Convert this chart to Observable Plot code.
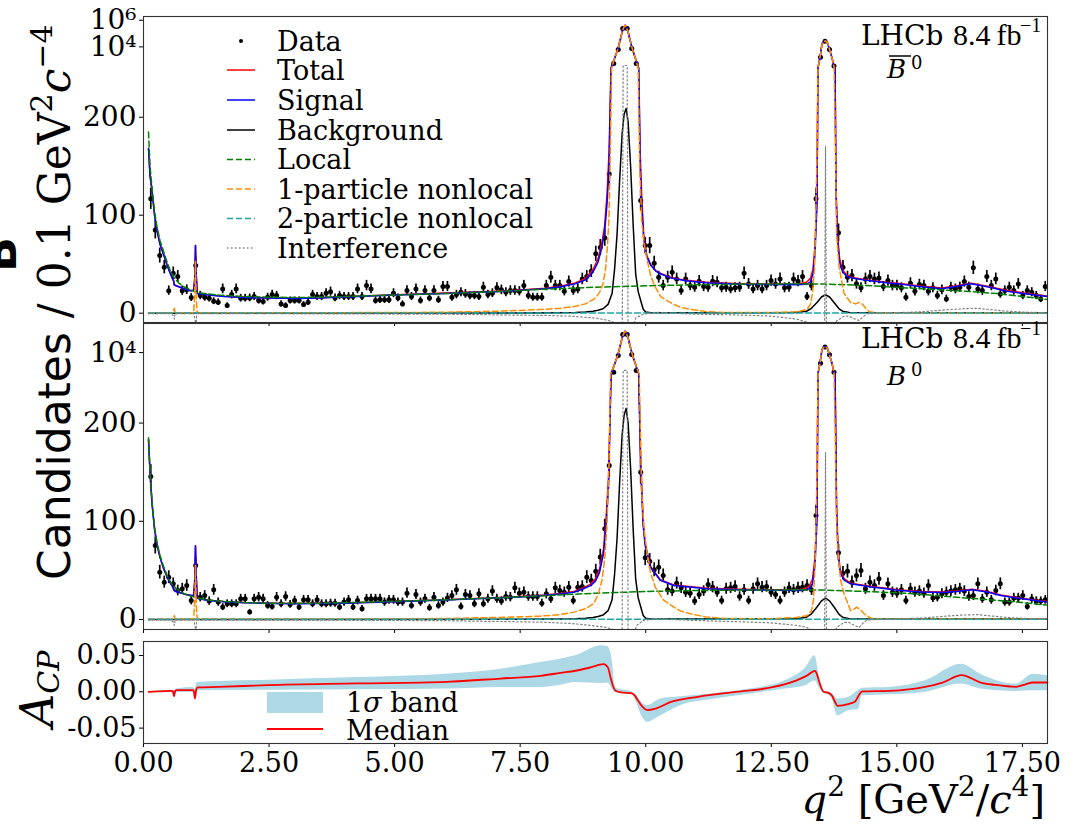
<!DOCTYPE html>
<html><head><meta charset="utf-8">
<script src="https://cdn.jsdelivr.net/npm/d3@7"></script>
<script src="https://cdn.jsdelivr.net/npm/@observablehq/plot@0.6"></script>
<style>
html,body{margin:0;padding:0;background:#fff;}
#fig{position:relative;width:1087px;height:828px;overflow:hidden;background:#fff;}
</style></head><body><div id="fig"></div>
<script>
// ---------------- histogram binning ----------------
const binLo = 0.1, binWidth = 0.0895;
const xTickVals = [0, 2.5, 5, 7.5, 10, 12.5, 15, 17.5];

// ---------------- data: B0bar (top panel) ----------------
const dataBbar = [
116.7,85,58.8,47,23,40.8,37.4,23,24,16,
48.6,18,16.3,15.3,12.2,11.2,24.8,7.8,19,24.8,
15.3,15.3,15.6,17,12.9,11.9,16.3,19,18,9.5,
7.8,12.9,12.9,12.9,8.8,11.2,19,17,17,20.4,
22,15.6,18,17,17,17,24.8,17,28.2,24.8,
12.9,13.6,13.6,13.6,20.4,15.6,9.5,23.1,17,24.8,
12.9,23.1,15.6,23.1,13.6,27.2,27.2,16.3,19,21.4,
19.7,18,18,17,26.5,19,20.4,25.9,23.8,21.4,
23.1,23.1,22.4,28.2,18,16.3,16.3,16.3,28.2,36.7,
28.2,28.2,22.4,32.3,23.1,24.8,35,37.4,42.9,
60.6,67,77,142,571,6380,240000,240000,7600,571,115,69,69,51,
36.7,28.2,36.7,41.8,35,23.1,35,28.2,26.5,32.7,27.2,26.5,32.7,31.6,25.9,26.5,24.8,25.9,26.5,40.8,
29.9,24.8,28.2,24.8,28.2,33.3,29.9,35,25.9,26.5,35,32.7,37.4,17,28.2,
116.7,1700,26000,6400,360,82,
47,36.7,38.4,30,25.9,35,37.4,35,36,27.2,33.3,28.2,28.2,25.9,16.3,30.6,22.4,29.2,28.2,22.4,
25.9,18,23.8,14.6,26.5,24.8,26.5,32.3,26.5,46.3,24.8,23.1,37.4,28.2,35,19.7,23.1,26.5,23.1,29.9,
18,23.1,21.4,18,14.6,27.2];

// ---------------- data: B0 (middle panel) ----------------
const dataB = [
145.6,75.4,48.2,38,43.1,36.3,29.5,31.2,34.6,19.3,
55,22.7,24.4,18.7,30.2,17.7,12.6,16,16,16,
21,21,7.5,21,22.7,21,14.3,13.2,22.7,16,
23.4,15.3,19.3,12.6,20,20,16,20,16,16,
16.6,16.6,12.6,17.7,20,12.6,19.3,10.9,21,21,
21,21,17.7,20,20,17.7,17.7,26.8,14.3,25.5,
17.7,21,11.9,22.7,14.3,17.7,22,24.4,30.2,13.2,
25.5,24.4,16,26.1,16,21,28.9,21,18.7,23.4,
22.7,32.2,26.8,27.8,23.4,23.4,23.4,16.6,26.1,21,
32.2,29.5,27.8,32.9,19.3,32.9,33.6,43.1,39.7,
49.2,63.5,92.4,156.8,340,6030,226000,226000,7260,460,150,62.8,59.4,50.6,
53.3,44.8,30.2,28.9,37,32.2,27.8,26.8,18.7,25.5,28.9,35.6,32.9,27.8,19.3,31.2,32.2,33.6,23.4,30.2,
19.3,31.2,36.3,32.9,33.6,27.8,25.5,19.3,27.8,32.2,30.2,32.2,32.9,34.6,30,
106,1610,26000,6900,340,68,
47.2,49.2,38,44.8,49.9,31.2,38,34.6,41.4,24.4,36.3,27.8,26.8,30.2,19.3,31.2,27.8,28.9,26.8,34.6,
22,22.7,26.1,27.8,28.9,30.2,31.2,28.9,23.4,24.4,36.3,21,27.8,20,29.5,36.3,17.7,17.7,22,22,
24.4,13.2,21,18.7,18.7,20];

// ---------------- model curves: top panel ----------------
const signalTop = [[0.1,168],[0.13,140],[0.17,125],[0.22,100],[0.27,84],[0.33,70],[0.4,60],[0.47,49],[0.53,41],[0.58,35],[0.6,33],[0.61,29],[0.65,28],[0.73,26.5],[0.85,24],[0.95,23],[1.0,23.5],[1.02,35],[1.035,69],[1.05,40],[1.07,20],[1.15,19.5],[1.3,18.5],[1.6,17],[2.0,16],[2.5,15.5],[3.1,15],[3.5,15.5],[4.0,16.5],[4.5,17.5],[5.0,18.5],[5.5,19.3],[6.0,20.2],[6.6,21.3],[7.0,22],[7.5,23.3],[8.0,25],[8.3,27],[8.6,30],[8.8,34],[8.95,42],[9.05,52],[9.12,66],[9.18,82],[9.23,112],[9.27,150],[9.31,250],[9.375,1200],[9.44,5800],[9.49,30000],[9.53,130000],[9.565,300000],[9.59,420000],[9.615,300000],[9.65,130000],[9.69,30000],[9.74,5800],[9.8,1200],[9.86,250],[9.89,150],[9.92,110],[9.96,76],[10.02,58],[10.1,49],[10.2,43],[10.3,40],[10.5,36],[10.8,33],[11.2,31],[11.9,29.5],[12.5,29.3],[13.0,29],[13.2,29.5],[13.28,32],[13.33,40],[13.37,60],[13.41,110],[13.43,250],[13.47,1600],[13.51,17000],[13.545,25000],[13.585,28000],[13.62,20000],[13.66,6400],[13.71,1500],[13.75,300],[13.77,250],[13.79,120],[13.82,74],[13.86,52],[13.92,42],[14.0,38],[14.1,36],[14.4,33.5],[14.8,31],[15.1,29.5],[15.5,27],[15.9,25],[16.2,27.5],[16.48,30],[16.8,27],[17.2,22.5],[17.6,19.5],[18.0,17]];
const totalTop = [[0.1,168],[0.13,140],[0.17,125],[0.22,100],[0.27,84],[0.33,70],[0.4,60],[0.47,49],[0.53,41],[0.58,35],[0.6,33],[0.61,29],[0.65,28],[0.73,26.5],[0.85,24],[0.95,23],[1.0,23.5],[1.02,35],[1.035,69],[1.05,40],[1.07,20.3],[1.15,19.8],[1.3,18.8],[1.6,17.3],[2.0,16.3],[2.5,15.8],[3.1,15.3],[3.5,15.8],[4.0,16.8],[4.5,17.8],[5.0,18.8],[5.5,19.6],[6.0,20.5],[6.6,21.6],[7.0,22.3],[7.5,23.6],[8.0,25.4],[8.3,27.6],[8.6,30.8],[8.8,35.4],[8.95,44.5],[9.05,55.5],[9.12,70.5],[9.18,88],[9.23,122],[9.27,165],[9.31,272],[9.375,1250],[9.44,5900],[9.49,30000],[9.53,130000],[9.565,300000],[9.59,420000],[9.615,300000],[9.65,130000],[9.69,30000],[9.74,5900],[9.8,1240],[9.86,272],[9.89,165],[9.92,120],[9.96,80],[10.02,59],[10.1,49.5],[10.2,43.5],[10.3,40.5],[10.5,36.5],[10.8,33.5],[11.2,31.5],[11.9,30],[12.5,29.8],[13.0,29.6],[13.2,31.5],[13.28,35.5],[13.33,45],[13.37,68],[13.41,121],[13.43,263],[13.47,1620],[13.51,17000],[13.545,25000],[13.585,28000],[13.62,20000],[13.66,6420],[13.71,1515],[13.75,311],[13.77,259],[13.79,127],[13.82,80],[13.86,56],[13.92,44],[14.0,39],[14.1,36.6],[14.4,34],[14.8,31.5],[15.1,30],[15.5,27.6],[15.9,25.6],[16.2,28.1],[16.48,30.6],[16.8,27.6],[17.2,23.1],[17.6,20.1],[18.0,17.5]];
const backgroundTop = [[0.1,0],[7.5,0.2],[8.3,0.5],[8.6,0.7],[8.8,1.2],[8.95,2],[9.05,3],[9.15,4.5],[9.25,9],[9.33,20],[9.38,45],[9.43,81],[9.48,135],[9.53,183],[9.57,203],[9.61,209],[9.65,195],[9.7,149],[9.75,90],[9.8,40],[9.85,22],[9.9,13],[9.95,4],[10.0,1.2],[10.1,0.4],[13.0,0.6],[13.2,2],[13.3,5],[13.41,11],[13.5,16.5],[13.58,18.8],[13.66,16.5],[13.75,11],[13.85,4.5],[13.92,2],[14.05,0.7],[18,0.5]];
const localTop = [[0.1,185],[0.13,150],[0.17,128],[0.22,104],[0.27,88],[0.33,74],[0.4,63],[0.47,52],[0.53,44],[0.6,37],[0.7,31],[0.8,27],[0.9,24.5],[1.0,22.5],[1.2,20],[1.5,18.5],[2.0,17],[2.5,16.3],[3.0,16],[3.5,16.3],[4.0,17],[5.0,18.5],[6.0,20],[7.0,22],[8.0,24.5],[9.0,26.5],[10.0,28],[11.0,29],[12.0,29.7],[13.0,30],[13.5,29.8],[14.0,29],[14.5,28],[15.0,26.3],[15.5,25],[16.0,23.5],[16.5,22],[17.0,20],[17.5,17],[18.0,14]];
const nonlocal1Top = [[0.1,0.3],[0.58,0.3],[0.6,3],[0.615,5],[0.63,0.5],[1.0,0.5],[1.02,20],[1.035,53],[1.05,15],[1.07,0.5],[5.0,0.6],[6.0,1],[7.0,2],[7.5,2.8],[8.0,4],[8.3,5],[8.6,7],[8.8,9.5],[8.98,14.6],[9.08,21],[9.15,30],[9.2,45],[9.24,70],[9.27,100],[9.3,180],[9.32,250],[9.375,1200],[9.44,5800],[9.49,30000],[9.53,130000],[9.565,300000],[9.59,420000],[9.615,300000],[9.65,130000],[9.69,30000],[9.74,5800],[9.8,1200],[9.85,250],[9.88,150],[9.92,94],[9.97,70],[10.03,54],[10.1,38],[10.19,26.5],[10.3,17],[10.45,12],[10.56,9],[10.7,6],[10.89,4],[11.22,1.5],[11.6,0.7],[12.5,0.6],[13.0,1.5],[13.15,3],[13.22,4.5],[13.28,9],[13.32,20],[13.36,45],[13.38,81],[13.41,160],[13.43,250],[13.47,1600],[13.51,17000],[13.545,25000],[13.585,28000],[13.62,20000],[13.66,6400],[13.71,1500],[13.75,300],[13.77,200],[13.8,81],[13.85,47],[13.95,20],[14.08,11],[14.18,9.5],[14.25,11],[14.32,9],[14.38,5],[14.45,1.5],[14.6,0.5],[18,0.5]];
const nonlocal2Top = [[0.1,0.3],[9,0.3],[18,0.3]];
const interferenceTop = [[0.1,-0.5],[0.55,-0.5],[0.6,-3],[0.615,-6],[0.63,-0.5],[1.0,-0.5],[1.03,-8],[1.045,-12],[1.06,-0.5],[3,-0.6],[6,-1],[8,-2.3],[8.5,-3],[9.0,-5],[9.26,-7.4],[9.4,-10],[9.47,-20],[9.515,-300],[9.55,400],[9.63,400],[9.665,-300],[9.72,-20],[9.8,-5],[9.95,-1],[10.2,1],[10.5,0],[11,-1],[12,-2],[12.5,-3],[13.0,-6],[13.2,-9],[13.35,-12],[13.45,-25],[13.535,-300],[13.58,170],[13.625,-300],[13.72,-25],[13.8,-8],[13.95,-3],[14.05,-3],[14.15,-5.7],[14.25,-7.4],[14.32,-4],[14.4,-0.6],[14.6,0],[15.0,0.5],[15.5,1.5],[16.0,3.5],[16.3,4.5],[16.6,5],[16.9,3.5],[17.2,2],[17.6,1],[18,0.5]];

// ---------------- model curves: middle panel ----------------
const signalMid = [[0.1,183],[0.13,150],[0.17,118],[0.22,92],[0.27,76],[0.33,63],[0.4,52],[0.47,43.5],[0.53,37.5],[0.58,33.5],[0.6,32],[0.61,29.5],[0.65,28.5],[0.75,27],[0.85,25.5],[0.95,24.5],[1.0,24.5],[1.02,40],[1.035,75],[1.05,45],[1.07,21.5],[1.15,20.5],[1.3,19.3],[1.6,18],[2.0,17],[2.6,16.2],[3.0,16],[4.0,16.6],[5.0,18],[6.0,19.8],[7.0,21.8],[7.5,23],[8.0,24.6],[8.3,26],[8.57,27.8],[8.75,31],[8.9,34.5],[9.0,39],[9.08,48],[9.16,67],[9.21,95],[9.26,135],[9.31,250],[9.375,1200],[9.44,5800],[9.49,30000],[9.53,125000],[9.565,290000],[9.59,400000],[9.615,290000],[9.65,125000],[9.69,30000],[9.74,5800],[9.8,1200],[9.86,250],[9.9,152],[9.95,95],[9.99,75],[10.1,53],[10.29,40],[10.56,34.6],[11.22,31.2],[11.89,30.2],[12.5,29.8],[13.1,29.5],[13.25,31],[13.32,36.3],[13.37,55],[13.41,100],[13.43,250],[13.47,1600],[13.51,17000],[13.545,25000],[13.585,28000],[13.62,20000],[13.66,6400],[13.71,1500],[13.75,300],[13.77,250],[13.8,110],[13.83,67],[13.87,48],[13.95,40],[14.08,36.3],[14.5,33],[15.07,29.5],[15.5,28],[15.9,27.5],[16.2,28.5],[16.5,30.2],[16.8,28],[17.07,24.4],[17.5,21],[18,17.7]];
const totalMid = [[0.1,183],[0.13,150],[0.17,118],[0.22,92],[0.27,76],[0.33,63],[0.4,52],[0.47,43.5],[0.53,37.5],[0.58,33.5],[0.6,32],[0.61,29.5],[0.65,28.5],[0.75,27],[0.85,25.5],[0.95,24.5],[1.0,24.5],[1.02,40],[1.035,75],[1.05,45],[1.07,21.8],[1.15,20.8],[1.3,19.6],[1.6,18.3],[2.0,17.3],[2.6,16.5],[3.0,16.3],[4.0,16.9],[5.0,18.3],[6.0,20.1],[7.0,22.1],[7.5,23.3],[8.0,25],[8.3,26.5],[8.57,28.5],[8.75,32],[8.9,36],[9.0,41.5],[9.08,51.5],[9.16,72],[9.21,103],[9.26,146],[9.31,270],[9.375,1250],[9.44,5900],[9.49,30000],[9.53,125000],[9.565,290000],[9.59,400000],[9.615,290000],[9.65,125000],[9.69,30000],[9.74,5900],[9.8,1240],[9.86,272],[9.9,165],[9.95,100],[9.99,77],[10.1,53.5],[10.29,40.5],[10.56,35.1],[11.22,31.7],[11.89,30.7],[12.5,30.3],[13.1,30.3],[13.25,33.5],[13.32,41],[13.37,63],[13.41,112],[13.43,263],[13.47,1620],[13.51,17000],[13.545,25000],[13.585,28000],[13.62,20000],[13.66,6420],[13.71,1518],[13.75,313],[13.77,260],[13.8,118],[13.83,72],[13.87,51],[13.95,41.5],[14.08,37],[14.5,33.5],[15.07,30],[15.5,28.5],[15.9,28],[16.2,29],[16.5,30.7],[16.8,28.5],[17.07,24.9],[17.5,21.5],[18,18.2]];
const backgroundMid = [[0.1,0],[7.5,0.2],[8.3,0.5],[8.6,0.7],[8.8,1.2],[8.95,2],[9.05,3],[9.15,4.5],[9.25,9],[9.33,20],[9.38,46],[9.43,83],[9.48,139],[9.53,188],[9.57,208],[9.61,215],[9.65,200],[9.7,153],[9.75,92],[9.8,41],[9.85,22],[9.9,13],[9.95,4],[10.0,1.2],[10.1,0.4],[13.0,0.7],[13.2,2.3],[13.3,5.8],[13.41,12.7],[13.5,19],[13.58,21.7],[13.66,19],[13.75,12.7],[13.85,5.2],[13.92,2.3],[14.05,0.8],[18,0.5]];
const localMid = [[0.1,185],[0.13,150],[0.17,120],[0.22,94],[0.27,78],[0.33,65],[0.4,54],[0.47,45],[0.53,39],[0.6,34],[0.7,29.5],[0.8,26.5],[0.9,24.5],[1.0,23],[1.2,20.5],[1.5,18.8],[2.0,17.3],[2.5,16.6],[3.0,16.4],[3.5,16.6],[4.0,17],[5.0,18.5],[6.0,20],[7.0,22],[8.0,24.2],[9.0,26.8],[10.0,28.5],[11.0,29.5],[12.0,30],[13.0,30.2],[13.5,30],[14.0,29.2],[14.5,28.2],[15.07,27],[15.5,25.5],[16.0,23.5],[16.5,21.4],[17.0,19.5],[17.5,17.2],[18.0,14.6]];
const nonlocal1Mid = [[0.1,0.3],[0.58,0.3],[0.6,2.5],[0.615,4],[0.63,0.5],[1.0,0.5],[1.02,20],[1.035,55],[1.05,15],[1.07,0.5],[5.0,0.6],[6.0,1],[7.0,2],[7.5,2.7],[7.9,3.4],[8.3,5],[8.57,7.5],[8.8,11],[8.96,16],[9.05,25],[9.13,40],[9.19,65],[9.23,100],[9.27,160],[9.3,250],[9.375,1200],[9.44,5800],[9.49,30000],[9.53,125000],[9.565,290000],[9.59,400000],[9.615,290000],[9.65,125000],[9.69,30000],[9.74,5800],[9.8,1200],[9.87,250],[9.92,130],[9.97,90],[10.03,67],[10.1,47],[10.19,33],[10.35,20],[10.56,12.6],[10.7,8.5],[10.89,5.8],[11.22,2.4],[11.6,1],[12.5,0.7],[13.0,2],[13.22,4],[13.3,9],[13.34,20],[13.38,67],[13.41,150],[13.43,250],[13.47,1600],[13.51,17000],[13.545,25000],[13.585,28000],[13.62,20000],[13.66,6400],[13.71,1500],[13.75,300],[13.77,200],[13.8,100],[13.83,67],[13.88,40],[13.95,26],[14.08,9],[14.15,10.5],[14.2,12.5],[14.27,10],[14.35,5.8],[14.48,1.4],[14.6,0.5],[18,0.5]];
const nonlocal2Mid = [[0.1,0.3],[9,0.3],[18,0.3]];
const interferenceMid = [[0.1,-0.5],[0.55,-0.5],[0.6,-3],[0.615,-6],[0.63,-0.5],[1.0,-0.5],[1.03,-8],[1.045,-12],[1.06,-0.5],[3,-0.6],[6,-1.2],[7.9,-2.7],[8.5,-4],[8.9,-6],[9.2,-8],[9.35,-10],[9.45,-20],[9.51,-300],[9.55,460],[9.63,460],[9.67,-300],[9.73,-20],[9.82,-6],[9.95,-1],[10.2,1],[10.5,0],[11,-1],[12,-2.5],[12.5,-3.5],[13.0,-6],[13.2,-8],[13.35,-12],[13.45,-25],[13.535,-300],[13.58,170],[13.625,-300],[13.72,-25],[13.8,-8],[13.95,-3],[14.05,-3],[14.15,-6],[14.25,-8],[14.32,-4],[14.4,-0.6],[14.6,0],[15.0,0.5],[15.5,1.5],[16.0,3.5],[16.3,4.5],[16.6,5],[16.9,3.5],[17.2,2],[17.6,1],[18,0.5]];

// ---------------- A_CP panel ----------------
const acpMedian = [[0.1,0],[0.3,0.0005],[0.56,0.0014],[0.59,0.0005],[0.61,-0.0064],[0.63,0.001],[0.66,0.0023],[0.99,0.0023],[1.01,-0.002],[1.025,-0.0092],[1.05,0.003],[1.08,0.006],[1.5,0.0068],[2.48,0.0092],[4.26,0.0115],[6.03,0.0138],[7.11,0.0183],[7.91,0.022],[8.3,0.026],[8.6,0.029],[8.9,0.0335],[9.16,0.038],[9.25,0.033],[9.3,0.0197],[9.35,0.008],[9.4,0.0014],[9.51,-0.0009],[9.71,-0.0018],[9.78,-0.005],[9.85,-0.0124],[9.93,-0.02],[10.03,-0.0252],[10.2,-0.023],[10.5,-0.014],[11.04,-0.0069],[11.8,0],[12.5,0.006],[12.98,0.0151],[13.2,0.022],[13.37,0.0289],[13.42,0.022],[13.47,0.0106],[13.54,0],[13.65,-0.0018],[13.71,-0.0055],[13.77,-0.014],[13.82,-0.0193],[14.03,-0.017],[14.17,-0.0133],[14.24,-0.005],[14.31,0.0005],[14.86,0.0014],[15.56,0.0069],[15.91,0.0128],[16.29,0.0229],[16.67,0.0128],[16.95,0.0096],[17.37,0.0069],[17.55,0.01],[17.71,0.0128],[18.0,0.0128]];
const acpBand = [[0.1,0,0],[0.56,-0.0014,0.0023],[0.61,-0.008,0.001],[0.66,-0.001,0.004],[0.99,-0.0009,0.006],[1.025,-0.011,0.004],[1.07,0.0014,0.0128],[2.48,0.0023,0.016],[4.26,0.0028,0.0197],[6.03,0.0037,0.0243],[7.11,0.006,0.0312],[7.91,0.006,0.0404],[8.3,0.009,0.045],[8.6,0.0128,0.0495],[9.13,0.0115,0.0633],[9.25,0.012,0.062],[9.33,0.004,0.045],[9.4,-0.001,0.005],[9.71,-0.003,0.0005],[9.8,-0.012,-0.004],[9.92,-0.033,-0.0147],[10.03,-0.042,-0.0193],[10.3,-0.033,-0.01],[10.69,-0.0193,-0.0069],[11.38,-0.01,-0.0023],[12.07,-0.0032,0.0037],[12.77,0.0037,0.0151],[13.19,0.0083,0.0335],[13.37,0.0151,0.0495],[13.47,0.0037,0.0151],[13.55,-0.0014,0.0005],[13.7,-0.008,-0.002],[13.82,-0.033,-0.01],[14.03,-0.026,-0.0078],[14.24,-0.0239,0.0023],[14.31,-0.0055,0.005],[14.86,-0.0041,0.006],[15.56,-0.0009,0.0151],[16.29,0.0106,0.038],[16.67,0.0037,0.0243],[17.37,0.0005,0.0106],[17.71,0.0014,0.0243],[18.0,0.0014,0.022]];

// ---------------- axis tick labels ----------------
const yTickTop = [0, 100, 200, 1e4, 1e6];
const yTickTopLabels = ["0", "100", "200", "10\u2074", "10\u2076"];
const yTickMid = [0, 100, 200, 1e4];
const yTickMidLabels = ["0", "100", "200", "10\u2074"];
const acpTicks = [-0.05, 0, 0.05];

// ---------------- colours ----------------
const colTotal = "#ff0000", colSignal = "#0000ff", colBkg = "#000000", colLocal = "#008000",
      colNL1 = "#ff8c00", colNL2 = "#20a5a5", colInt = "#808080", colBand = "#add8e6";

// linear below 250, logarithmic above (as in the reference axis)
const T = v => v <= 250 ? v : 250 + 13.6 * Math.log10(v / 250);

const fig = document.getElementById("fig");
const baseStyle = {background: "transparent", fontFamily: "DejaVu Serif", fontSize: "28px", color: "black", overflow: "visible"};

function place(svg, top) {
  svg.style.position = "absolute";
  svg.style.left = "0px";
  svg.style.top = top + "px";
  svg.style.maxWidth = "none";
  fig.appendChild(svg);
}

function mainPanel(values, c, o) {
  const bins = values.map((v, k) => ({q: binLo + binWidth * (k + 0.5), v}));
  const lbl = new Map(o.ticks.map((t, i) => [T(t), o.labels[i]]));
  const ln = (arr, stroke, dash, w = 1.5) => Plot.line(arr, {x: d => d[0], y: d => T(d[1]), stroke, strokeWidth: w, strokeDasharray: dash, clip: true});
  const svg = Plot.plot({
    width: 1087, height: o.height,
    marginLeft: 143, marginRight: 40, marginTop: o.mt, marginBottom: o.mb,
    style: baseStyle,
    x: {domain: [0, 18], ticks: xTickVals, tickFormat: () => "", tickSize: 4, label: null},
    y: {domain: o.domain, ticks: o.ticks.map(T), tickFormat: d => lbl.get(d), tickSize: 4, tickPadding: 3, label: null},
    marks: [
      Plot.ruleX(bins, {x: "q", y1: d => T(d.v - Math.sqrt(d.v)), y2: d => T(d.v + Math.sqrt(d.v)), stroke: "black", strokeWidth: 1.7, clip: true}),
      Plot.dot(bins, {x: "q", y: d => T(d.v), r: 2.5, fill: "black", stroke: "none", clip: true}),
      ln(c.total, colTotal),
      ln(c.signal, colSignal),
      ln(c.bkg, colBkg),
      ln(c.local, colLocal, "6,3"),
      ln(c.nl1, colNL1, "6,3"),
      ln(c.nl2, colNL2, "6,3"),
      ln(c.int, colInt, "1.5,2.5", 1.2),
      Plot.frame({stroke: "#333", strokeWidth: 1.1})
    ]
  });
  place(svg, o.top);
}

mainPanel(dataBbar, {total: totalTop, signal: signalTop, bkg: backgroundTop, local: localTop, nl1: nonlocal1Top, nl2: nonlocal2Top, int: interferenceTop},
  {top: 0, height: 330, mt: 16, mb: 8, domain: [-9.5, 302.8], ticks: yTickTop, labels: yTickTopLabels});
mainPanel(dataB, {total: totalMid, signal: signalMid, bkg: backgroundMid, local: localMid, nl1: nonlocal1Mid, nl2: nonlocal2Mid, int: interferenceMid},
  {top: 318, height: 318, mt: 5, mb: 7, domain: [-10.2, 301.4], ticks: yTickMid, labels: yTickMidLabels});

const acp = Plot.plot({
  width: 1087, height: 198,
  marginLeft: 143, marginRight: 40, marginTop: 11, marginBottom: 85,
  style: {...baseStyle, fontSize: "27px"},
  x: {domain: [0, 18], ticks: xTickVals, tickFormat: d => d.toFixed(2), tickSize: 4, tickPadding: 5, label: null},
  y: {domain: [-0.0712, 0.0693], ticks: acpTicks, tickFormat: d => d.toFixed(2), tickSize: 4, tickPadding: 3, label: null},
  marks: [
    Plot.areaY(acpBand, {x: d => d[0], y1: d => d[1], y2: d => d[2], fill: colBand, curve: "monotone-x"}),
    Plot.line(acpMedian, {x: d => d[0], y: d => d[1], stroke: colTotal, strokeWidth: 1.8, curve: "monotone-x"}),
    Plot.frame({stroke: "#333", strokeWidth: 1.1})
  ]
});
place(acp, 630);

// ---------------- text, legends, annotations ----------------
const legendRows = [
  {name: "Data", y: 41, kind: "dot"},
  {name: "Total", y: 70, stroke: colTotal},
  {name: "Signal", y: 100, stroke: colSignal},
  {name: "Background", y: 130, stroke: colBkg},
  {name: "Local", y: 159.5, stroke: colLocal, dash: "6,3"},
  {name: "1-particle nonlocal", y: 189, stroke: colNL1, dash: "6,3"},
  {name: "2-particle nonlocal", y: 218.5, stroke: colNL2, dash: "6,3"},
  {name: "Interference", y: 248, stroke: colInt, dash: "1.5,2.5"}
];
let ov = `<svg xmlns="http://www.w3.org/2000/svg" width="1087" height="828" style="position:absolute;left:0;top:0" font-family="DejaVu Serif" fill="black">`;
ov += `<g font-size="27">`;
for (const r of legendRows) {
  if (r.kind === "dot") ov += `<circle cx="241" cy="${r.y}" r="2" fill="black"/>`;
  else ov += `<line x1="227" x2="255" y1="${r.y}" y2="${r.y}" stroke="${r.stroke}" stroke-width="1.5" ${r.dash ? `stroke-dasharray="${r.dash}"` : ""}/>`;
  ov += `<text x="277" y="${r.y + 9.5}">${r.name}</text>`;
}
ov += `</g>`;
// LHCb labels
for (const [yb, sub, bar] of [[45, 78, true], [348, 385, false]]) {
  ov += `<text x="861" y="${yb}" font-size="28">LHCb</text>`;
  ov += `<text x="953" y="${yb}" font-size="30" font-family="Liberation Serif">8.4&#8201;fb</text>`;
  ov += `<text x="1020" y="${yb - 13}" font-size="20" font-family="Liberation Serif">\u22121</text>`;
  ov += `<text x="887" y="${sub}" font-size="26" font-style="italic">B</text>`;
  if (bar) ov += `<line x1="889" x2="911" y1="${sub - 22}" y2="${sub - 22}" stroke="black" stroke-width="1.5"/>`;
  ov += `<text x="911" y="${sub - 9}" font-size="18">0</text>`;
}
// y label
ov += `<text transform="translate(70,580) rotate(-90)" font-size="44"><tspan font-family="DejaVu Sans">Candidates</tspan><tspan> / 0.1 GeV</tspan><tspan font-size="30" dy="-18">2</tspan><tspan dy="18" font-style="italic">c</tspan><tspan font-size="30" dy="-18">\u22124</tspan></text>`;
ov += `<text transform="translate(16,272) rotate(-90)" font-size="46" font-weight="bold" font-family="DejaVu Sans">B</text>`;
// A_CP label
ov += `<text transform="translate(53,727) rotate(-90)" font-size="46" font-style="italic">A<tspan font-size="30" dy="6">CP</tspan></text>`;
// x label
ov += `<text x="1045" y="813" text-anchor="end" font-size="40"><tspan font-style="italic">q</tspan><tspan font-size="28" dy="-17">2</tspan><tspan dy="17"> [GeV</tspan><tspan font-size="28" dy="-17">2</tspan><tspan dy="17">/</tspan><tspan font-style="italic">c</tspan><tspan font-size="28" dy="-17">4</tspan><tspan dy="17">]</tspan></text>`;
// A_CP legend
ov += `<rect x="267" y="692" width="56" height="21" fill="${colBand}"/>`;
ov += `<text x="346" y="712" font-size="27">1<tspan font-style="italic">σ</tspan> band</text>`;
ov += `<line x1="267" x2="323" y1="729" y2="729" stroke="${colTotal}" stroke-width="1.8"/>`;
ov += `<text x="346" y="739.5" font-size="27">Median</text>`;
ov += `</svg>`;
fig.insertAdjacentHTML("beforeend", ov);
</script>
</body></html>
